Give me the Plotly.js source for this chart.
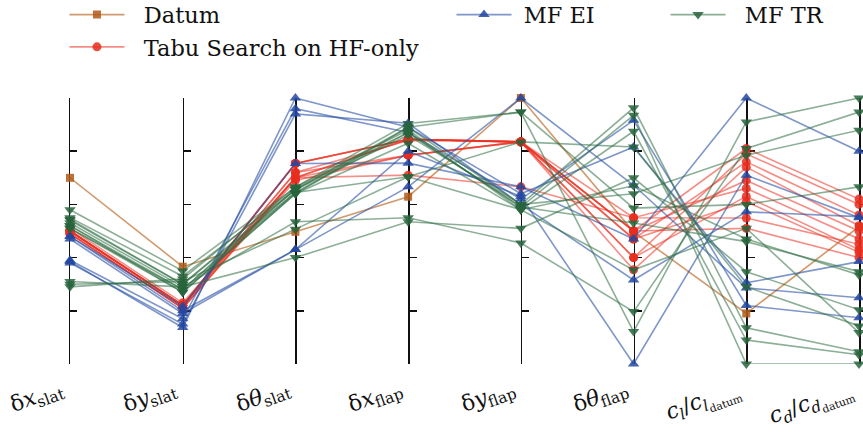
<!DOCTYPE html>
<html>
<head>
<meta charset="utf-8">
<script src="https://cdn.plot.ly/plotly-3.0.1.min.js"></script>
<style>html,body{margin:0;padding:0;background:#fff;}#chart{width:863px;height:441px;}</style>
</head>
<body>
<div id="chart"></div>
<script>
// Axis labels (parallel coordinates, normalised 0..1)
const axisLabels = [
  "δ<i>x</i><sub>slat</sub>",
  "δ<i>y</i><sub>slat</sub>",
  "δ<i>θ</i><sub>slat</sub>",
  "δ<i>x</i><sub>flap</sub>",
  "δ<i>y</i><sub>flap</sub>",
  "δ<i>θ</i><sub>flap</sub>",
  "<i>c<sub>l</sub></i>/<i>c</i><sub><i>l</i><sub>datum</sub></sub>",
  "<i>c<sub>d</sub></i>/<i>c</i><sub><i>d</i><sub>datum</sub></sub>"
];
const tickValues = [0, 0.2, 0.4, 0.6, 0.8, 1.0];

// Datum design
const datum = [0.70, 0.366, 0.497, 0.629, 1.0, 0.497, 0.19, 0.516];

// Tabu Search on HF-only
const tabu = [
  [0.50, 0.22, 0.754, 0.845, 0.835, 0.50, 0.81, 0.62],
  [0.49, 0.21, 0.70, 0.845, 0.835, 0.40, 0.79, 0.60],
  [0.50, 0.22, 0.72, 0.84, 0.835, 0.47, 0.76, 0.56],
  [0.51, 0.23, 0.70, 0.785, 0.835, 0.354, 0.74, 0.52],
  [0.50, 0.22, 0.754, 0.845, 0.835, 0.50, 0.69, 0.50],
  [0.49, 0.21, 0.69, 0.785, 0.835, 0.55, 0.66, 0.47],
  [0.50, 0.22, 0.70, 0.71, 0.666, 0.55, 0.549, 0.45],
  [0.50, 0.22, 0.754, 0.845, 0.835, 0.40, 0.63, 0.43],
  [0.49, 0.21, 0.70, 0.845, 0.835, 0.47, 0.61, 0.42],
  [0.50, 0.22, 0.72, 0.785, 0.835, 0.50, 0.51, 0.40]
];

// MF EI
const mfEI = [
  [0.48, 0.216, 0.754, 0.755, 0.666, 0.47, 1.0, 0.80],
  [0.385, 0.137, 1.0, 0.89, 0.64, 0.816, 0.305, 0.385],
  [0.39, 0.17, 0.96, 0.87, 0.62, 0.916, 0.22, 0.174],
  [0.38, 0.15, 0.94, 0.905, 0.60, 0.316, 0.572, 0.554],
  [0.47, 0.19, 0.43, 0.666, 1.0, 0.672, 0.286, 0.249],
  [0.48, 0.20, 0.43, 0.80, 0.63, 0.0, 0.71, 0.55]
];

// MF TR
const mfTR = [
  [0.58, 0.35, 0.665, 0.904, 0.947, 0.122, 0.91, 1.0],
  [0.544, 0.30, 0.655, 0.89, 0.60, 0.963, 0.136, 0.046],
  [0.52, 0.28, 0.645, 0.87, 0.59, 0.935, 0.0, 0.0],
  [0.51, 0.27, 0.64, 0.83, 0.58, 0.875, 0.09, 0.035],
  [0.53, 0.29, 0.535, 0.55, 0.455, 0.197, 0.81, 0.947],
  [0.30, 0.31, 0.507, 0.704, 0.835, 0.816, 0.29, 0.143],
  [0.31, 0.29, 0.40, 0.535, 0.51, 0.70, 0.347, 0.204],
  [0.29, 0.32, 0.665, 0.88, 0.58, 0.67, 0.47, 0.335],
  [0.55, 0.33, 0.655, 0.86, 0.60, 0.64, 0.785, 0.879],
  [0.52, 0.27, 0.64, 0.89, 0.947, 0.586, 0.60, 0.666],
  [0.51, 0.28, 0.66, 0.87, 0.59, 0.53, 0.46, 0.347],
  [0.54, 0.30, 0.645, 0.704, 0.58, 0.354, 0.51, 0.118]
];

const nAx = axisLabels.length;
const xIdx = axisLabels.map((_, i) => i);
const traces = [];
// empty traces so every parallel axis is created and drawn
for (let i = 1; i < nAx; i++) {
  traces.push({type: 'scatter', mode: 'lines', x: [], y: [], yaxis: 'y' + (i + 1),
               showlegend: false, hoverinfo: 'skip'});
}
function addGroup(rows, name, lineColor, markerColor, symbol, size, legend) {
  rows.forEach((r, k) => {
    traces.push({
      type: 'scatter', mode: 'lines+markers', x: xIdx, y: r, name: name,
      legendgroup: name, showlegend: k === 0, legend: legend,
      line: {color: lineColor, width: 1.6},
      marker: {color: markerColor, symbol: symbol, size: size, line: {width: 0}},
      cliponaxis: false, hoverinfo: 'skip'
    });
  });
}
const sp = '\u00a0\u00a0';
addGroup([datum], sp + 'Datum', 'rgba(185,100,30,0.65)', 'rgba(175,90,25,0.85)', 'square', 8, 'legend');
addGroup(tabu, sp + 'Tabu Search on HF-only', 'rgba(235,50,35,0.55)', 'rgba(232,45,30,0.85)', 'circle', 9, 'legend');
addGroup(mfEI, '\u00a0' + 'MF EI', 'rgba(40,80,165,0.6)', 'rgba(35,70,160,0.85)', 'triangle-up', 10, 'legend2');
addGroup(mfTR, sp + 'MF TR', 'rgba(45,110,65,0.55)', 'rgba(40,100,60,0.85)', 'triangle-down', 10, 'legend3');

const serif = 'DejaVu Serif';
const yStyle = {
  range: [0, 1], showgrid: false, zeroline: false, showline: true,
  linecolor: '#111', linewidth: 1.5, ticks: 'inside', ticklen: 7, tickwidth: 1.5,
  tickcolor: '#111', tickvals: tickValues, showticklabels: false, layer: 'below traces',
  fixedrange: true
};
const legendFont = {family: serif, size: 22.5, color: '#111'};
const legY = 1.393;
const layout = {
  width: 863, height: 441,
  margin: {l: 70, r: 4, t: 98, b: 77, autoexpand: false},
  paper_bgcolor: '#fff', plot_bgcolor: 'rgba(0,0,0,0)',
  font: {family: serif, color: '#111'},
  xaxis: {
    range: [0, 7], showgrid: false, zeroline: false, showline: false,
    tickvals: xIdx, showticklabels: false, ticks: '', fixedrange: true, automargin: false
  },
  yaxis: Object.assign({}, yStyle),
  legend: {x: -0.007, xanchor: 'left', y: legY, yanchor: 'top', bgcolor: 'rgba(0,0,0,0)',
           font: legendFont, itemwidth: 55, tracegroupgap: 0},
  legend2: {x: 0.4835, xanchor: 'left', y: legY, yanchor: 'top', bgcolor: 'rgba(0,0,0,0)',
           font: legendFont, itemwidth: 55},
  legend3: {x: 0.7548, xanchor: 'left', y: legY, yanchor: 'top', bgcolor: 'rgba(0,0,0,0)',
           font: legendFont, itemwidth: 55},
  showlegend: true,
  annotations: axisLabels.map((t, i) => ({
    xref: 'x', yref: 'paper', x: i, y: 0, text: t, showarrow: false,
    textangle: -20, xanchor: 'right', yanchor: 'top', xshift: 1, yshift: -8,
    font: {family: serif, size: 22, color: '#111'}
  }))
};
for (let i = 1; i < nAx; i++) {
  layout['yaxis' + (i + 1)] = Object.assign({}, yStyle, {
    overlaying: 'y', anchor: 'free', position: i / (nAx - 1), side: 'left', automargin: false
  });
}
Plotly.newPlot('chart', traces, layout, {staticPlot: true});
</script>
</body>
</html>
